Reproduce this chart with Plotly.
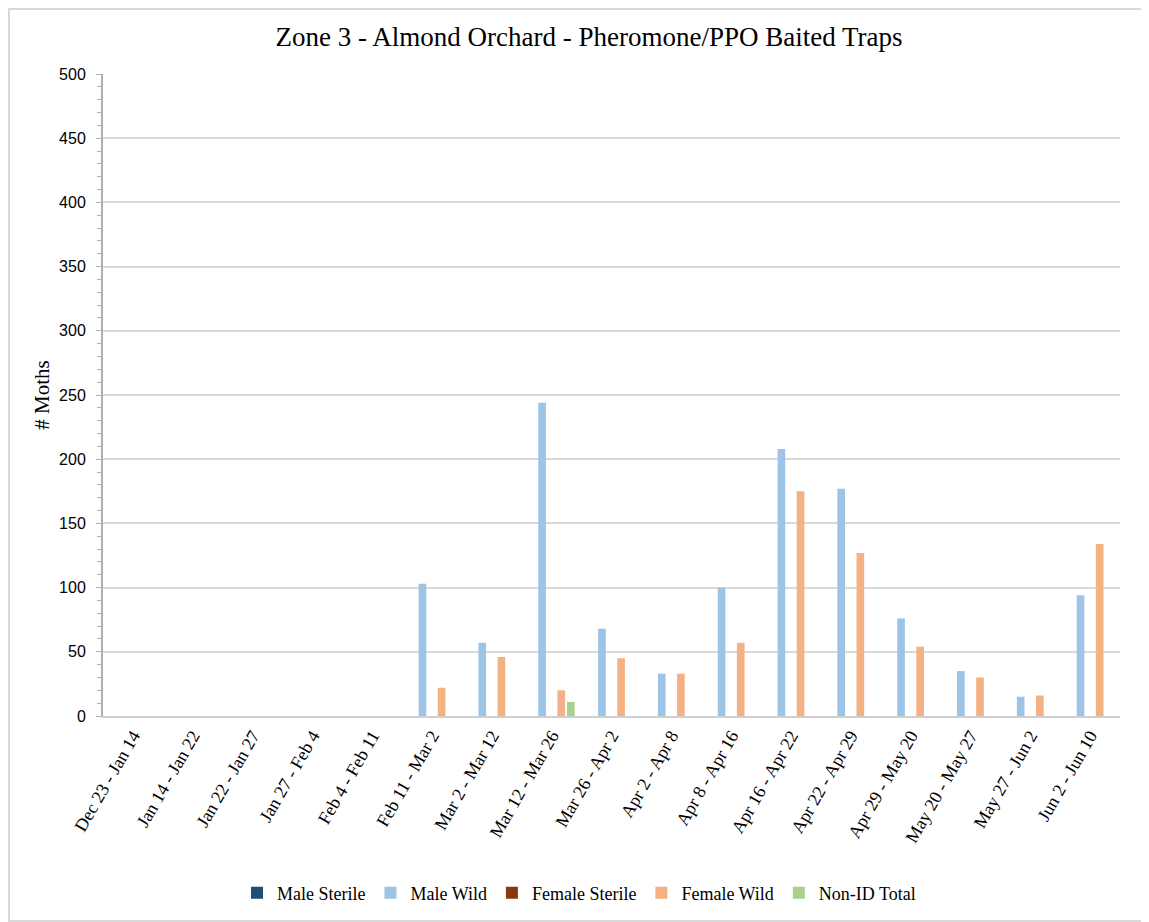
import plotly.graph_objects as go

categories = ["Dec 23 - Jan 14", "Jan 14 - Jan 22", "Jan 22 - Jan 27", "Jan 27 - Feb 4",
              "Feb 4 - Feb 11", "Feb 11 - Mar 2", "Mar 2 - Mar 12", "Mar 12 - Mar 26",
              "Mar 26 - Apr 2", "Apr 2 - Apr 8", "Apr 8 - Apr 16", "Apr 16 - Apr 22",
              "Apr 22 - Apr 29", "Apr 29 - May 20", "May 20 - May 27", "May 27 - Jun 2",
              "Jun 2 - Jun 10"]
male_sterile = [0] * 17
male_wild = [0, 0, 0, 0, 0, 103, 57, 244, 68, 33, 100, 208, 177, 76, 35, 15, 94]
female_sterile = [0] * 17
female_wild = [0, 0, 0, 0, 0, 22, 46, 20, 45, 33, 57, 175, 127, 54, 30, 16, 134]
non_id_total = [0, 0, 0, 0, 0, 0, 0, 11, 0, 0, 0, 0, 0, 0, 0, 0, 0]

series = [
    ("Male Sterile", male_sterile, "#1f4e79"),
    ("Male Wild", male_wild, "#9dc3e6"),
    ("Female Sterile", female_sterile, "#843c0c"),
    ("Female Wild", female_wild, "#f4b183"),
    ("Non-ID Total", non_id_total, "#a9d18e"),
]

fig = go.Figure()
for name, vals, color in series:
    fig.add_trace(go.Bar(x=categories, y=vals, name=name,
                         marker=dict(color=color, line=dict(width=0))))

serif = "Liberation Serif, Times New Roman, serif"
W, H = 1141, 914
L, R, T, B = 95, 29, 66, 206
PW, PH = W - L - R, H - T - B
fig.update_layout(
    width=W, height=H,
    margin=dict(l=L, r=R, t=T, b=B, autoexpand=False),
    paper_bgcolor="white", plot_bgcolor="white",
    barmode="group", bargap=0.2, bargroupgap=0.2,
    title=dict(text="Zone 3 - Almond Orchard - Pheromone/PPO Baited Traps",
               x=581 / W, xanchor="center", y=1 - 29 / H, yanchor="middle",
               font=dict(family=serif, size=27, color="#000000")),
    legend=dict(orientation="h", x=(571 - L) / PW, xanchor="center",
                y=-(177 / PH), yanchor="middle",
                font=dict(family=serif, size=18, color="#000000"),
                itemwidth=30, traceorder="normal"),
    showlegend=True,
)
fig.update_xaxes(
    type="category", tickangle=-60,
    tickfont=dict(family=serif, size=18, color="#000000"),
    showline=True, linecolor="#d0d0d0", linewidth=2,
    ticks="", showgrid=False,
)
fig.update_yaxes(
    range=[0, 500], dtick=50,
    tickfont=dict(family="Liberation Sans, Arial, sans-serif", size=16, color="#000000"),
    ticklabelstandoff=7,
    showgrid=True, gridcolor="#d9d9d9", gridwidth=2,
    showline=True, linecolor="#b0b0b0", linewidth=2,
    ticks="outside", ticklen=5, tickcolor="#b0b0b0",
    minor=dict(ticks="outside", dtick=10, ticklen=4, tickcolor="#b0b0b0", showgrid=False),
    title=dict(text="# Moths", font=dict(family=serif, size=21, color="#000000"), standoff=4),
    zeroline=False,
)
fig.add_shape(type="rect", xref="paper", yref="paper",
              x0=-(L - 1) / PW, x1=1 + (R - 1) / PW, y0=-(B - 1) / PH, y1=1 + (T - 1) / PH,
              line=dict(color="#d9d9d9", width=2), fillcolor="rgba(0,0,0,0)", layer="below")

fig.write_html("out.html")
